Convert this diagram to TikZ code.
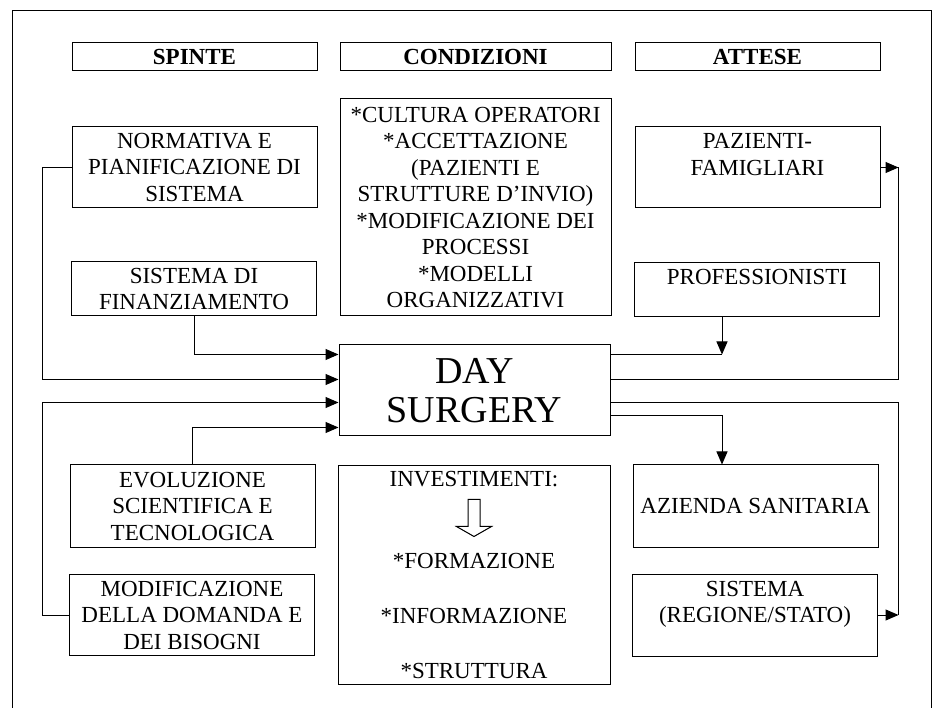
\documentclass[tikz,border=0pt]{standalone}
\usepackage{fontspec}
\setmainfont{Liberation Serif}
\usetikzlibrary{arrows.meta,calc}

\tikzset{
  titolo/.style={draw, line width=1pt, font=\fontsize{23}{26.5}\selectfont\bfseries,
    minimum width=245pt, minimum height=28pt, inner sep=0pt},
  casella/.style={draw, line width=1pt, align=center, font=\fontsize{23}{26.5}\selectfont,
    minimum width=245pt, inner sep=0pt},
  freccia/.style={line width=1pt, -{Triangle[length=13pt,width=11pt]}},
  linea/.style={line width=1pt}
}

\begin{document}
\begin{tikzpicture}[x=1pt,y=-1pt]
\useasboundingbox (0,0) rectangle (935,708);

% cornice esterna
\draw[linea] (12,708) -- (12,11) -- (931,11) -- (931,708);

% intestazioni
\node[titolo] (spinte) at (194.5,57) {SPINTE};
\node[titolo, minimum width=271pt] (condizioni) at (475.5,57) {CONDIZIONI};
\node[titolo] (attese) at (757.5,57) {ATTESE};

% colonna spinte
\node[casella, minimum height=81pt] (normativa) at (194.5,167.5) {NORMATIVA E\\PIANIFICAZIONE DI\\SISTEMA};
\node[casella, minimum height=54pt] (finanz) at (194,289) {SISTEMA DI\\FINANZIAMENTO};
\node[casella, minimum height=82pt] (evoluzione) at (192.5,506) {EVOLUZIONE\\SCIENTIFICA E\\TECNOLOGICA};
\node[casella, minimum height=81pt] (domanda) at (192,615) {MODIFICAZIONE\\DELLA DOMANDA E\\DEI BISOGNI};

% colonna condizioni
\node[casella, minimum width=271pt, minimum height=217pt] (cultura) at (475.5,207.5)
  {{*}CULTURA OPERATORI\\{*}ACCETTAZIONE\\(PAZIENTI E\\STRUTTURE D'INVIO)\\{*}MODIFICAZIONE DEI\\PROCESSI\\{*}MODELLI\\ORGANIZZATIVI};
\node[casella, minimum width=271pt, minimum height=91pt, font=\fontsize{38}{39}\selectfont] (ds) at (474.5,390.5) {DAY\\SURGERY};
\node[casella, minimum width=272pt, minimum height=218pt, font=\fontsize{23}{27.5}\selectfont] (invest) at (474,575)
  {INVESTIMENTI:\\ \mbox{}\\ \mbox{}\\{*}FORMAZIONE\\ \mbox{}\\{*}INFORMAZIONE\\ \mbox{}\\{*}STRUTTURA};

% freccia vuota
\draw[linea] ($(invest.north)+(-6,34)$) -- ++(12,0) -- ++(0,27) -- ++(11.5,0)
  -- ++(-17.5,10) -- ++(-17.5,-10) -- ++(11.5,0) -- cycle;

% colonna attese
\node[casella, minimum height=81pt] (pazienti) at (757.5,167.5) {PAZIENTI-\\FAMIGLIARI\\ \mbox{}};
\node[casella, minimum height=54pt] (profess) at (757,290) {PROFESSIONISTI\\ \mbox{}};
\node[casella, minimum height=82pt] (azienda) at (755.5,506) {AZIENDA SANITARIA};
\node[casella, minimum height=82pt] (sistema) at (755,615) {SISTEMA\\(REGIONE/STATO)\\ \mbox{}};

% punti sul bordo di day surgery
\coordinate (in1) at ($(ds.north west)+(0,10)$);
\coordinate (in2) at ($(ds.north west)+(0,35)$);
\coordinate (in3) at ($(ds.north west)+(0,58)$);
\coordinate (in4) at ($(ds.north west)+(0,83)$);
\coordinate (out1) at ($(ds.north east)+(0,10)$);
\coordinate (out2) at ($(ds.north east)+(0,35)$);
\coordinate (out3) at ($(ds.north east)+(0,58)$);
\coordinate (out4) at ($(ds.north east)+(0,71)$);

% spinte verso day surgery
\draw[freccia] (finanz.south) |- (in1);
\draw[freccia] (normativa.west) -- ++(-29,0) |- (in2);
\draw[freccia] (domanda.west) -- ++(-27,0) |- (in3);
\draw[freccia] (evoluzione.north) |- (in4);

% day surgery verso attese
\coordinate (giu) at ($(profess.south)+(-35,0)$);
\coordinate (nodo1) at (out1 -| giu);
\draw[linea] (out1) -- (nodo1);
\draw[freccia] (giu) -- (nodo1);
\coordinate (dx1) at ($(pazienti.east)+(18,0)$);
\draw[linea] (out2) -| (dx1);
\draw[freccia] (pazienti.east) -- (dx1);
\coordinate (dx2) at ($(sistema.east)+(20.5,0)$);
\draw[linea] (out3) -| (dx2);
\draw[freccia] (sistema.east) -- (dx2);
\draw[freccia] (out4) -| (azienda.north -| giu);

\end{tikzpicture}
\end{document}
